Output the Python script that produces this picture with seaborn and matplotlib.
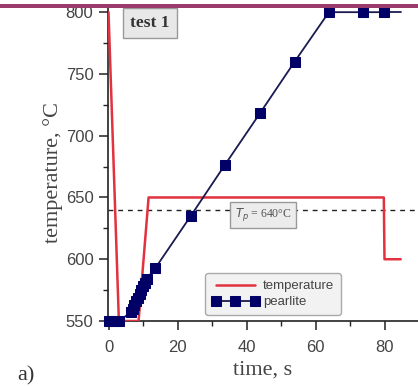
import matplotlib
matplotlib.use("Agg")
import matplotlib.pyplot as plt
import matplotlib.patches as mpatches
import seaborn as sns
import pandas as pd
import numpy as np

# ---- data ----
temp_time = [0, 3, 8.7, 11.6, 79.7, 79.9, 84.6]
temp_value = [800, 550, 550, 650, 650, 600, 600]

pearl_time = [0, 1, 2, 3, 6.5, 7, 7.5, 8, 8.5, 9, 9.5, 10, 10.5, 11, 13.6,
              23.8, 33.6, 43.8, 53.9, 63.8, 73.6, 79.7]
pearl_value = [550, 550, 550, 550, 557, 560, 563, 566, 569, 572, 575, 578,
               581, 584, 593, 635, 676, 718, 760, 800, 800, 800]
line_end_time = [79.7, 84.6]
line_end_value = [800, 800]

tp_value = 640
x_ticks = [0, 20, 40, 60, 80]
y_ticks = [550, 600, 650, 700, 750, 800]

sns.set_style("ticks")
plt.rcParams['font.family'] = ['Liberation Sans', 'DejaVu Sans']

fig = plt.figure(figsize=(4.18, 3.86), dpi=100)
ax = fig.add_axes([108/418, 65/386, 310/418, 315/386])

red = '#e2323f'
navy = '#000066'

df_t = pd.DataFrame({'time': temp_time, 'T': temp_value})
df_p = pd.DataFrame({'time': pearl_time, 'T': pearl_value})

sns.lineplot(data=df_t, x='time', y='T', ax=ax, color=red, lw=1.8,
             sort=False, estimator=None, label='temperature', zorder=3)
ax.axhline(tp_value, color='#222222', lw=1.0, ls=(0, (3.5, 3.5)), zorder=2)
sns.lineplot(x=line_end_time, y=line_end_value, ax=ax, color='#1a1a50', lw=1.3,
             sort=False, estimator=None, zorder=4)
sns.lineplot(data=df_p, x='time', y='T', ax=ax, color='#1a1a50', lw=1.3,
             marker='s', markersize=7, markerfacecolor=navy, markeredgecolor=navy,
             sort=False, estimator=None, label='pearlite', zorder=5, clip_on=False)

ax.set_xlim(-0.15, 89.6)
ax.set_ylim(550, 805)
ax.set_xticks(x_ticks)
ax.set_yticks(y_ticks)
ax.set_xticks([10, 30, 50, 70], minor=True)
ax.set_yticks([575, 625, 675, 725, 775], minor=True)
ax.tick_params(axis='both', which='major', direction='out', length=6.5, width=1.1,
               labelsize=12, labelcolor='#444444', color='#222222')
ax.tick_params(axis='x', which='major', pad=7)
ax.tick_params(axis='y', which='major', pad=4)
ax.tick_params(axis='both', which='minor', direction='out', length=3.5, width=1.0,
               color='#222222')
for s in ['top', 'right']:
    ax.spines[s].set_visible(False)
for s in ['left', 'bottom']:
    ax.spines[s].set_linewidth(1.2)
    ax.spines[s].set_color('#222222')

ax.set_xlabel('time, s', family=['Liberation Serif', 'DejaVu Serif'], fontsize=16,
              color='#444444', labelpad=4)
ax.set_ylabel('temperature, °C', family=['Liberation Serif', 'DejaVu Serif'],
              fontsize=16, color='#444444', va='center')
ax.yaxis.set_label_coords(-0.177, 0.473)

leg = ax.legend(loc='lower left', bbox_to_anchor=(0.313, 0.019), borderaxespad=0,
                numpoints=3, handlelength=3.6, handletextpad=0.3, fontsize=9.5,
                frameon=True, fancybox=True, framealpha=1, borderpad=0.5,
                labelspacing=0.3)
leg.get_frame().set_facecolor('#f2f2f2')
leg.get_frame().set_edgecolor('#aaaaaa')
for t in leg.get_texts():
    t.set_color('#444444')

ax.text(0.135, 0.945, 'test 1', transform=ax.transAxes, ha='center', va='center',
        family=['Liberation Serif', 'DejaVu Serif'], fontweight='bold', fontsize=12.5,
        color='#333333',
        bbox=dict(boxstyle='square,pad=0.4', fc='#e8e8e8', ec='#999999', lw=1))
ax.text(0.5, 0.337, '$T_p$ = 640°C', transform=ax.transAxes, ha='center', va='center',
        family=['Liberation Serif', 'DejaVu Serif'], fontsize=8.5, color='#555555',
        bbox=dict(boxstyle='square,pad=0.4', fc='#ececec', ec='#999999', lw=1),
        zorder=6)

fig.text(17/418, 1 - 380/386, 'a)', family=['Liberation Serif', 'DejaVu Serif'],
         fontsize=16, color='#333333', ha='left', va='baseline')

fig.patches.append(mpatches.Rectangle((0, 1 - 7.5/386), 1, 3.5/386,
                                      transform=fig.transFigure, fc='#9b3b6b',
                                      ec='none', zorder=10))

fig.savefig('out.png', dpi=100)
